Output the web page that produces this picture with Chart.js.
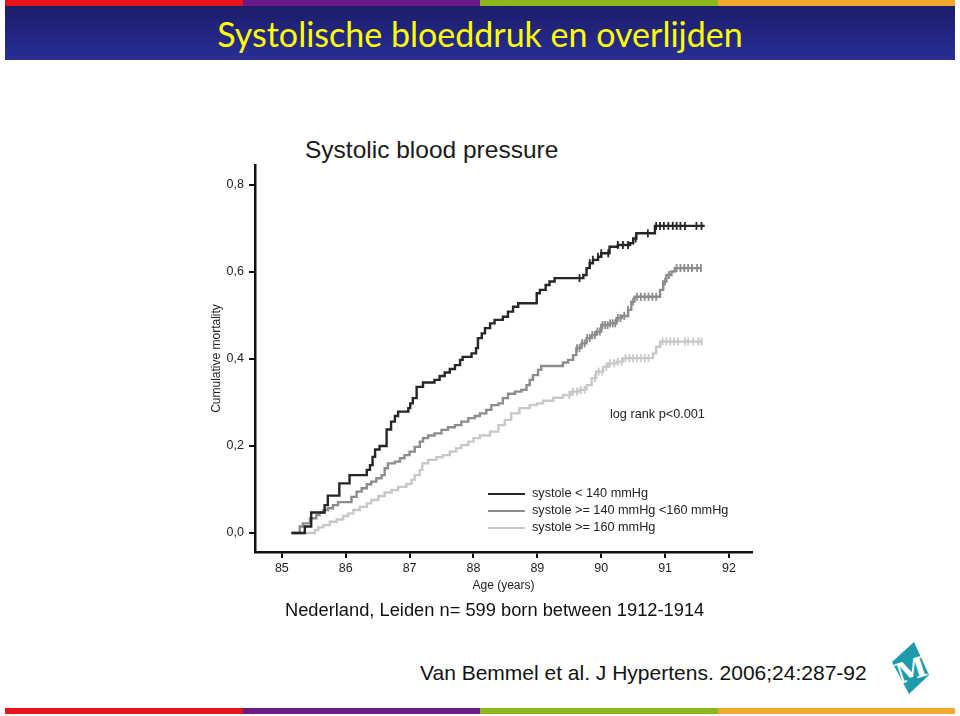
<!DOCTYPE html>
<html>
<head>
<meta charset="utf-8">
<script src="https://cdn.jsdelivr.net/npm/chart.js@4.4.1/dist/chart.umd.min.js"></script>
<style>
  body { margin:0; width:960px; height:716px; background:#fff; position:relative; overflow:hidden; font-family:"Liberation Sans", Arial, sans-serif; color:#1a1a1a; }
  .strip { position:absolute; left:5px; width:950px; height:6px; display:flex; }
  .strip div { flex:1; }
  #kop { position:absolute; left:5px; top:6px; width:950px; height:54px; background:linear-gradient(#1b1e68, #292d95); color:#ffff00; font-family:Lato, sans-serif; font-size:34px; text-align:center; line-height:56px; }
  #grafiek { position:absolute; left:180px; top:100px; }
  .txt { position:absolute; white-space:nowrap; }
  #legenda .rij { position:absolute; left:488px; height:14px; }
  #legenda .lijn { position:absolute; left:0; top:6px; width:37px; height:2px; }
  #legenda .lbl { position:absolute; left:44px; top:-1px; font-size:12.7px; line-height:14px; white-space:nowrap; color:#222; }
</style>
</head>
<body>
<div class="strip" style="top:0"><div style="background:#e8141c"></div><div style="background:#6a1b8a"></div><div style="background:#8ab81e"></div><div style="background:#f0a830"></div></div>
<div id="kop">Systolische bloeddruk en overlijden</div>

<div class="txt" style="left:305px; top:137px; font-size:24.5px; line-height:26px; color:#1a1a1a">Systolic blood pressure</div>
<canvas id="grafiek" width="600" height="520"></canvas>
<div class="txt" style="left:610px; top:407px; font-size:12.7px; line-height:14px; color:#222">log rank p&lt;0.001</div>
<div id="legenda"></div>

<div class="txt" style="left:285px; top:599px; font-size:18.3px; line-height:21px; color:#111">Nederland, Leiden n= 599 born between 1912-1914</div>
<div class="txt" style="left:420px; top:660px; font-size:21px; line-height:25px; color:#111">Van Bemmel et al. J Hypertens. 2006;24:287-92</div>
<svg style="position:absolute; left:888px; top:638px" width="46" height="60">
  <polygon points="26,4 4,24 21,56 41,37" fill="#1f9aab"/>
  <text x="23" y="42" transform="rotate(-18 23 32)" text-anchor="middle" font-family="DejaVu Serif" font-size="28" font-weight="bold" fill="#fff">M</text>
</svg>
<div class="strip" style="top:708px"><div style="background:#e8141c"></div><div style="background:#6a1b8a"></div><div style="background:#8ab81e"></div><div style="background:#f0a830"></div></div>

<script>
// assen
const leeftijdTicks = [85, 86, 87, 88, 89, 90, 91, 92];
const mortTicks = [0, 0.2, 0.4, 0.6, 0.8];

const groepen = ['systole < 140 mmHg', 'systole >= 140 mmHg <160 mmHg', 'systole >= 160 mmHg'];
const kleuren = ['#262626', '#8c8c8c', '#c8c8c8'];

// systole < 140
const leeftijdLaag = [85.15, 85.36, 85.46, 85.67, 85.72, 85.90, 86.06, 86.33, 86.38, 86.42, 86.46, 86.53,
  86.64, 86.71, 86.77, 86.82, 86.98, 87.01, 87.05, 87.11, 87.21, 87.39, 87.47, 87.55, 87.63, 87.71,
  87.79, 87.83, 87.97, 88.04, 88.07, 88.13, 88.18, 88.26, 88.33, 88.46, 88.54, 88.62, 88.70, 88.99,
  89.04, 89.13, 89.19, 89.27, 89.72, 89.77, 89.82, 89.87, 89.95, 90.00, 90.13, 90.26, 90.45, 90.50,
  90.55, 90.84, 91.62];
const mortLaag = [0, 0.015, 0.047, 0.064, 0.086, 0.114, 0.133, 0.145, 0.156, 0.175, 0.192, 0.2,
  0.238, 0.256, 0.269, 0.279, 0.287, 0.298, 0.31, 0.336, 0.346, 0.352, 0.361, 0.369, 0.377, 0.386,
  0.398, 0.405, 0.413, 0.425, 0.448, 0.459, 0.471, 0.482, 0.49, 0.497, 0.509, 0.52, 0.528, 0.551,
  0.559, 0.57, 0.578, 0.586, 0.593, 0.609, 0.62, 0.628, 0.635, 0.643, 0.658, 0.662, 0.666, 0.677,
  0.689, 0.706, 0.706];
const censLaag = [89.66, 89.82, 89.87, 89.95, 90.0, 90.11, 90.26, 90.34, 90.42, 90.54, 90.73, 90.86,
  90.92, 90.98, 91.05, 91.12, 91.18, 91.24, 91.31, 91.49, 91.57];

// systole 140-160
const leeftijdMidden = [85.15, 85.28, 85.33, 85.44, 85.54, 85.59, 85.65, 85.72, 85.80, 85.88, 86.09,
  86.17, 86.25, 86.33, 86.40, 86.48, 86.56, 86.61, 86.66, 86.77, 86.85, 86.92, 87.00, 87.08, 87.16,
  87.21, 87.29, 87.39, 87.50, 87.60, 87.71, 87.81, 87.92, 88.02, 88.10, 88.20, 88.28, 88.39, 88.46,
  88.54, 88.65, 88.75, 88.83, 88.88, 88.93, 89.01, 89.06, 89.40, 89.48, 89.56, 89.61, 89.69, 89.77,
  89.85, 89.92, 90.00, 90.13, 90.24, 90.32, 90.42, 90.47, 90.52, 90.92, 90.97, 91.02, 91.10, 91.15, 91.57];
const mortMidden = [0, 0.015, 0.022, 0.034, 0.041, 0.047, 0.053, 0.057, 0.064, 0.071, 0.083,
  0.095, 0.103, 0.112, 0.118, 0.126, 0.133, 0.149, 0.16, 0.164, 0.172, 0.179, 0.187, 0.198, 0.21,
  0.218, 0.224, 0.229, 0.237, 0.243, 0.248, 0.256, 0.264, 0.269, 0.275, 0.283, 0.294, 0.298, 0.31,
  0.32, 0.325, 0.329, 0.34, 0.352, 0.363, 0.375, 0.384, 0.392, 0.398, 0.409, 0.425, 0.436, 0.448,
  0.455, 0.463, 0.478, 0.482, 0.494, 0.499, 0.513, 0.532, 0.543, 0.559, 0.578, 0.593, 0.601, 0.609, 0.609];
const censMidden = [89.62, 89.66, 89.70, 89.74, 89.78, 89.82, 89.86, 89.90, 89.94, 89.98, 90.02, 90.06,
  90.10, 90.14, 90.18, 90.22, 90.26, 90.30, 90.36, 90.42, 90.50, 90.56, 90.62, 90.68, 90.74, 90.80,
  90.86, 91.00, 91.06, 91.18, 91.24, 91.30, 91.36, 91.42, 91.50, 91.56];

// systole >= 160
const leeftijdHoog = [85.15, 85.52, 85.57, 85.65, 85.75, 85.86, 85.96, 86.04, 86.12, 86.22, 86.33,
  86.40, 86.51, 86.61, 86.72, 86.82, 86.95, 87.03, 87.08, 87.16, 87.20, 87.29, 87.42, 87.52, 87.63,
  87.73, 87.81, 87.92, 88.00, 88.10, 88.26, 88.39, 88.49, 88.59, 88.72, 88.88, 88.99, 89.09, 89.25,
  89.40, 89.53, 89.66, 89.77, 89.85, 89.92, 90.03, 90.11, 90.24, 90.34, 90.81, 90.86, 90.92, 91.59];
const mortHoog = [0, 0.007, 0.013, 0.018, 0.026, 0.031, 0.039, 0.045, 0.053, 0.06, 0.068,
  0.076, 0.085, 0.093, 0.099, 0.106, 0.113, 0.122, 0.133, 0.145, 0.16, 0.168, 0.174, 0.179, 0.187,
  0.195, 0.202, 0.21, 0.218, 0.224, 0.233, 0.248, 0.26, 0.275, 0.287, 0.294, 0.298, 0.304, 0.311,
  0.317, 0.325, 0.329, 0.34, 0.356, 0.371, 0.382, 0.39, 0.394, 0.402, 0.413, 0.428, 0.44, 0.44];
const censHoog = [89.50, 89.56, 89.62, 89.68, 89.74, 89.90, 89.96, 90.02, 90.08, 90.14, 90.20, 90.26,
  90.32, 90.38, 90.44, 90.50, 90.56, 90.62, 90.68, 90.74, 90.96, 91.02, 91.08, 91.14, 91.20, 91.31,
  91.36, 91.44, 91.52, 91.57];

const leeftijden = [leeftijdLaag, leeftijdMidden, leeftijdHoog];
const mortaliteit = [mortLaag, mortMidden, mortHoog];
const censuren = [censLaag, censMidden, censHoog];

function waardeOp(xs, ys, t) {
  let v = ys[0];
  for (let i = 0; i < xs.length; i++) {
    if (xs[i] <= t) v = ys[i];
  }
  return v;
}

const datasets = [];
groepen.forEach((naam, i) => {
  datasets.push({
    label: naam,
    data: leeftijden[i].map((x, j) => ({ x: x, y: mortaliteit[i][j] })),
    borderColor: kleuren[i],
    borderWidth: 2.4,
    stepped: true,
    pointRadius: 0,
    fill: false
  });
});
groepen.forEach((naam, i) => {
  datasets.push({
    label: naam + ' censored',
    data: censuren[i].map(t => ({ x: t, y: waardeOp(leeftijden[i], mortaliteit[i], t) })),
    borderColor: kleuren[i],
    showLine: false,
    pointStyle: 'line',
    rotation: 90,
    pointRadius: 4,
    pointBorderWidth: 1.8
  });
});

// legenda
const legenda = document.getElementById('legenda');
groepen.forEach((naam, i) => {
  const rij = document.createElement('div');
  rij.className = 'rij';
  rij.style.top = (487 + i * 17) + 'px';
  rij.innerHTML = '<div class="lijn" style="background:' + kleuren[i] + '"></div><div class="lbl"></div>';
  rij.querySelector('.lbl').textContent = naam;
  legenda.appendChild(rij);
});

const lettertype = { family: '"Liberation Sans", Arial, sans-serif', size: 12 };
const tickLettertype = { family: '"Liberation Sans", Arial, sans-serif', size: 12.5 };

const ctx = document.getElementById('grafiek').getContext('2d');
new Chart(ctx, {
  type: 'line',
  data: { datasets: datasets },
  options: {
    responsive: false,
    animation: false,
    devicePixelRatio: 1,
    layout: { padding: { left: 0, top: 65, right: 28, bottom: 18 } },
    plugins: { legend: { display: false }, tooltip: { enabled: false } },
    scales: {
      x: {
        type: 'linear',
        min: 84.58,
        max: 92.36,
        afterBuildTicks: s => { s.ticks = leeftijdTicks.map(v => ({ value: v })); },
        afterFit: s => { s.height = 50; },
        grid: { drawOnChartArea: false, drawTicks: true, tickLength: 6, color: '#111', lineWidth: 2 },
        border: { display: true, color: '#111', width: 2.5 },
        ticks: { color: '#222', font: tickLettertype, padding: 3, maxRotation: 0, autoSkip: false },
        title: { display: true, text: 'Age (years)', color: '#222', font: lettertype, padding: { top: 0, bottom: 9 } }
      },
      y: {
        type: 'linear',
        min: -0.0437,
        max: 0.846,
        afterBuildTicks: s => { s.ticks = mortTicks.map(v => ({ value: v })); },
        afterFit: s => { s.width = 75; },
        grid: { drawOnChartArea: false, drawTicks: true, tickLength: 6, color: '#111', lineWidth: 2 },
        border: { display: true, color: '#111', width: 2.5 },
        ticks: { color: '#222', font: tickLettertype, padding: 5, callback: v => v.toFixed(1).replace('.', ',') },
        title: { display: true, text: 'Cumulative mortality', color: '#222', font: lettertype, padding: { top: 29, bottom: 0 } }
      }
    }
  }
});
</script>
</body>
</html>
